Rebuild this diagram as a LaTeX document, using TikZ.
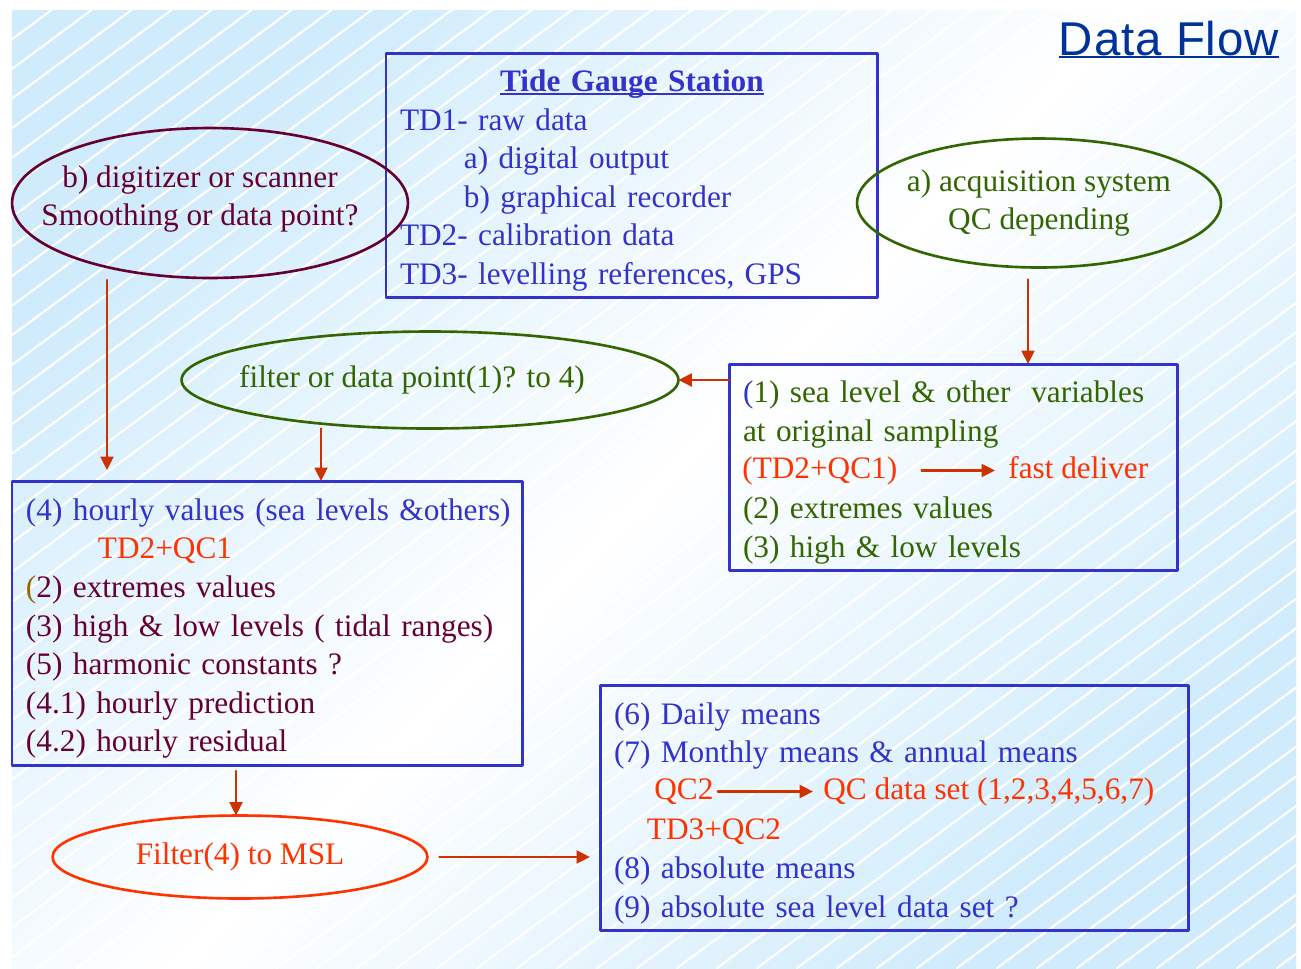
\documentclass[tikz,border=0pt]{standalone}
\usepackage{fontspec}
\setmainfont{Liberation Serif}
\newfontfamily\titlefont[LetterSpace=2]{Liberation Sans}
\usetikzlibrary{shapes.geometric,arrows.meta}
\newsavebox{\ulbox}
\newcommand{\ulbase}[1]{\sbox{\ulbox}{#1}\usebox{\ulbox}\llap{\rule[-1.8pt]{\wd\ulbox}{1.1pt}}}
\newcommand{\topstrut}{\rule{0pt}{0.64cm}}
\definecolor{stationblue}{RGB}{51,51,204}
\definecolor{leafgreen}{RGB}{51,102,0}
\definecolor{wine}{RGB}{102,0,51}
\definecolor{flamered}{RGB}{255,51,0}
\definecolor{rustred}{RGB}{204,51,0}
\definecolor{navyblue}{RGB}{0,51,153}
\definecolor{ochre}{RGB}{153,102,0}
\definecolor{skyblue}{RGB}{207,235,252}

\begin{document}
\begin{tikzpicture}[x=0.02cm, y=-0.02cm, line cap=round, line join=round, font=\fontsize{17.8}{21.95}\selectfont, >={Triangle[length=0.27cm, width=0.26cm]}]
	\tikzset{databox/.style={draw=stationblue, line width=1.7pt, rectangle, outer sep=0pt, inner xsep=0.28cm, inner ysep=0pt, align=left, anchor=north west},
		bubble/.style={draw=#1, line width=1.5pt, ellipse, inner sep=0pt, outer sep=0pt},
		flow/.style={->, draw=rustred, line width=1.4pt},
		redtxt/.style={text=flamered, inner sep=0pt, anchor=base west}}
	\useasboundingbox (0,0) rectangle (1301,968);
	\begin{scope}
		\clip (12,10) rectangle (1296,968);
		\shade[top color=skyblue, bottom color=skyblue, middle color=white, shading angle=45] (12,10) rectangle (1296,968);
		\foreach \i in {0,...,65}
			\draw[white, line width=1.2pt] (\i*40-1283,968) -- ++(1300,-962);
	\end{scope}
	\node[text=navyblue, font=\titlefont\fontsize{27}{30}\selectfont, anchor=base] (title) at (1169,55) {\ulbase{Data Flow}};
	\node[databox, text=stationblue, text width=9.28cm, minimum height=4.9cm] (station) at (386,53) {\topstrut\makebox[9.28cm]{\ulbase{\textbf{Tide Gauge Station}}}\\
		TD1- raw data\\
		\hspace*{1.28cm}a) digital output\\
		\hspace*{1.28cm}b) graphical recorder\\
		TD2- calibration data\\
		TD3- levelling references, GPS};
	\node[databox, text=leafgreen, text width=8.42cm, minimum height=4.14cm] (sea) at (729,364) {\topstrut\textcolor{stationblue}{(}1) sea level \& other\ \ variables\\
		at original sampling\\
		\mbox{}\\
		(2) extremes values\\
		(3) high \& low levels};
	\node[databox, text=wine, text width=9.66cm, minimum height=5.7cm] (hourly) at (12,481) {\topstrut\mbox{\textcolor{stationblue}{(4) hourly values (sea levels \&others)}}\\
		\hspace*{1.44cm}\textcolor{flamered}{TD2+QC1}\\
		\textcolor{ochre}{(}2) extremes values\\
		\mbox{(3) high \& low levels ( tidal ranges)}\\
		(5) harmonic constants ?\\
		(4.1) hourly prediction\\
		(4.2) hourly residual};
	\node[databox, text=stationblue, text width=11.22cm, minimum height=4.92cm] (means) at (600,685) {\topstrut(6) Daily means\\
		(7) Monthly means \& annual means\\
		\mbox{}\\
		\hspace*{0.66cm}\textcolor{flamered}{TD3+QC2}\\
		(8) absolute means\\
		(9) absolute sea level data set ?};
	\node[bubble=wine, minimum width=7.92cm, minimum height=3cm, label={[text=wine, align=center, xshift=-0.2cm, yshift=0.08cm]center:b) digitizer or scanner\\Smoothing or data point?}] (dig) at (210,203) {};
	\node[bubble=leafgreen, minimum width=7.28cm, minimum height=2.58cm, label={[text=leafgreen, align=center]center:a) acquisition system\\QC depending}] (acq) at (1039,203) {};
	\node[bubble=leafgreen, minimum width=9.94cm, minimum height=1.94cm, label={[text=leafgreen, xshift=-0.36cm]center:filter or data point(1)? to 4)}] (filt) at (430,380) {};
	\node[bubble=flamered, minimum width=7.5cm, minimum height=1.66cm, label={[text=flamered]center:Filter(4) to MSL}] (msl) at (240,857) {};
	\node[redtxt] (tdqc) at (742,478) {(TD2+QC1)};
	\node[redtxt] (fast) at (1008,478) {fast deliver};
	\node[redtxt] (qctwo) at (654,799) {QC2};
	\node[redtxt] (qcset) at (823,799) {QC data set (1,2,3,4,5,6,7)};
	\coordinate (xa) at (107,0);
	\coordinate (xb) at (321,0);
	\coordinate (xc) at (1028,0);
	\coordinate (xe) at (236,0);
	\draw[flow, shorten <=0.04cm, shorten >=0.22cm] (dig.south -| xa) -- (hourly.north -| xa);
	\draw[flow] (filt.south -| xb) -- (hourly.north -| xb);
	\draw[flow, shorten <=0.24cm] (acq.south -| xc) -- (sea.north -| xc);
	\draw[flow] (sea.west |- filt.east) -- (filt.east);
	\draw[flow, shorten <=0.1cm] (hourly.south -| xe) -- (msl.north -| xe);
	\draw[flow, shorten <=0.24cm, shorten >=0.2cm] (msl.east) -- (means.west |- msl.east);
	\draw[flow, shorten <=0.48cm, shorten >=0.26cm] (tdqc.east) -- (tdqc.east -| fast.west);
	\draw[flow, shorten <=0.08cm, shorten >=0.2cm] (qctwo.east |- qcset.west) -- (qcset.west);
\end{tikzpicture}
\end{document}
